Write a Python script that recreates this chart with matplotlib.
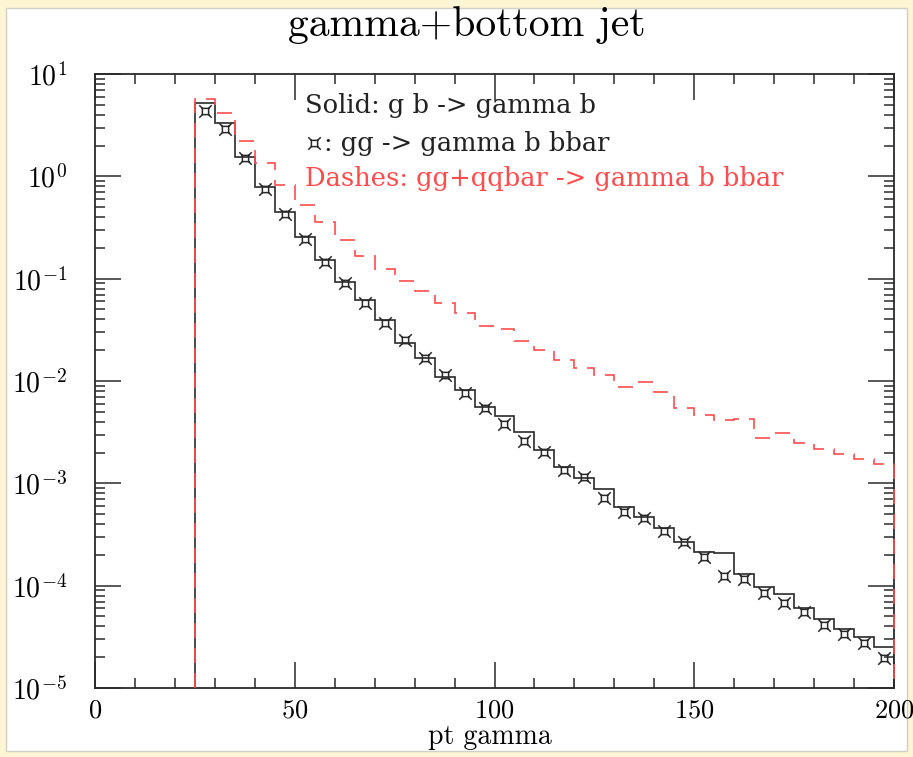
import matplotlib
matplotlib.use('Agg')
import matplotlib.pyplot as plt
from matplotlib.path import Path
from matplotlib.patches import Rectangle
from matplotlib.ticker import LogLocator, MultipleLocator, NullFormatter

plt.rcParams['font.family'] = 'cmr10'
plt.rcParams['mathtext.fontset'] = 'cm'
plt.rcParams['axes.formatter.use_mathtext'] = True

# histogram bin edges (pt gamma)
edges = [25, 30, 35, 40, 45, 50, 55, 60, 65, 70, 75, 80, 85, 90, 95, 100, 105, 110,
         115, 120, 125, 130, 135, 140, 145, 150, 155, 160, 165, 170, 175, 180, 185,
         190, 195, 200]

# solid: g b -> gamma b
solid = [5.25, 3.30, 1.56, 0.793, 0.446, 0.257, 0.152, 0.0933, 0.0619, 0.0394,
         0.0235, 0.0168, 0.0109, 0.00817, 0.00557, 0.00455, 0.00318, 0.00212,
         0.00145, 0.00113, 8.8e-4, 5.9e-4, 4.7e-4, 3.67e-4, 2.67e-4, 2.13e-4,
         2.08e-4, 1.30e-4, 9.7e-5, 8.3e-5, 6.05e-5, 4.72e-5, 3.78e-5, 3.15e-5,
         2.52e-5]

# crosses: gg -> gamma b bbar
cross = [4.38, 2.90, 1.51, 0.751, 0.428, 0.244, 0.146, 0.0908, 0.0578, 0.0372,
         0.0252, 0.0168, 0.0115, 0.00764, 0.00544, 0.00380, 0.00259, 0.00202,
         0.00135, 0.00115, 7.2e-4, 5.25e-4, 4.58e-4, 3.42e-4, 2.67e-4, 1.91e-4,
         1.24e-4, 1.16e-4, 8.47e-5, 6.78e-5, 5.54e-5, 4.13e-5, 3.38e-5, 2.75e-5,
         1.96e-5]

# dashes: gg+qqbar -> gamma b bbar
dashes = [5.70, 4.16, 2.21, 1.35, 0.822, 0.525, 0.358, 0.239, 0.167, 0.124,
          0.0948, 0.0759, 0.0578, 0.0462, 0.0345, 0.0322, 0.0246, 0.0201,
          0.0160, 0.0134, 0.0115, 0.00873, 0.00977, 0.00781, 0.00544, 0.00466,
          0.00416, 0.00426, 0.00277, 0.00310, 0.00248, 0.00217, 0.00194,
          0.00173, 0.00155]

centers = [(a + b) / 2 for a, b in zip(edges[:-1], edges[1:])]

# square with corner spikes
s = 0.5
verts = [(-s, -s), (s, -s), (s, s), (-s, s), (-s, -s),
         (s, s), (1, 1), (-s, s), (-1, 1), (-s, -s), (-1, -1), (s, -s), (1, -1)]
codes = [Path.MOVETO, Path.LINETO, Path.LINETO, Path.LINETO, Path.LINETO,
         Path.MOVETO, Path.LINETO, Path.MOVETO, Path.LINETO,
         Path.MOVETO, Path.LINETO, Path.MOVETO, Path.LINETO]
star = Path(verts, codes)

red = '#ff4d4d'
dark = '#2a2a2a'

fig = plt.figure(figsize=(9.13, 7.57), dpi=100)
fig.patch.set_facecolor('#fdf5d4')
fig.add_artist(Rectangle((6 / 913, 1 - 751 / 757), 901 / 913, 743 / 757,
                         transform=fig.transFigure, facecolor='white',
                         edgecolor='#d0d0c8', lw=1, zorder=-10))

ax = fig.add_axes([95 / 913, 1 - 688 / 757, 799 / 913, 614 / 757])

ax.stairs(solid, edges, baseline=1e-5, color=dark, lw=1.2, zorder=3)
ax.stairs(dashes, edges, baseline=1e-5, color=red, lw=1.2,
          linestyle=(0, (9, 6)), zorder=3.6, clip_on=False)
ax.plot(centers, cross, linestyle='none', marker=star, markersize=9,
        markerfacecolor='none', markeredgecolor=dark, markeredgewidth=1.1, zorder=4)

ax.set_yscale('log')
ax.set_xlim(0, 200)
ax.set_ylim(1e-5, 10)

ax.xaxis.set_major_locator(MultipleLocator(50))
ax.xaxis.set_minor_locator(MultipleLocator(10))
ax.yaxis.set_major_locator(LogLocator(base=10, numticks=10))
ax.yaxis.set_minor_locator(LogLocator(base=10, subs=range(2, 10), numticks=10))
ax.yaxis.set_minor_formatter(NullFormatter())

ax.tick_params(which='both', direction='in', top=True, right=True, color=dark)
ax.tick_params(which='major', length=19, width=1.1)
ax.tick_params(which='minor', length=7, width=1.1)
ax.tick_params(axis='x', which='major', labelsize=19, pad=8)
ax.tick_params(axis='y', which='major', labelsize=20, pad=20)
for sp in ax.spines.values():
    sp.set_color(dark)
    sp.set_linewidth(1.3)

fig.text(467 / 913, 1 - 25 / 757, 'gamma+bottom jet', ha='center', va='center',
         fontsize=30)
fig.text(490 / 913, 1 - 737 / 757, 'pt gamma', ha='center', va='center',
         fontsize=20)

tfont = dict(family='DejaVu Serif', fontsize=18.5, va='center', transform=ax.transAxes)
ax.text(0.263, 0.948, 'Solid: g b -> gamma b', color='#222222', **tfont)
ax.plot([0.2735], [0.887], transform=ax.transAxes, linestyle='none', marker=star,
        markersize=9, markerfacecolor='none', markeredgecolor=dark,
        markeredgewidth=1.1, clip_on=False)
ax.text(0.286, 0.887, ': gg -> gamma b bbar', color='#222222', **tfont)
ax.text(0.263, 0.830, 'Dashes: gg+qqbar -> gamma b bbar', color=red, **tfont)

fig.savefig('out.png', dpi=100, facecolor=fig.get_facecolor())
